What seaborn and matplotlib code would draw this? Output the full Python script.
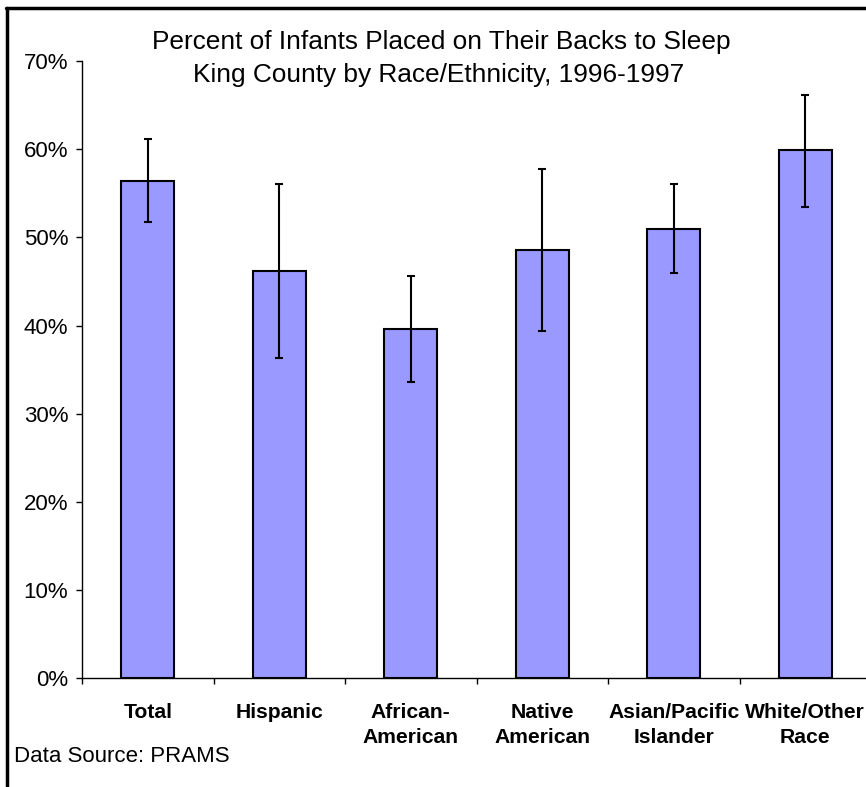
import matplotlib
matplotlib.use("Agg")
import matplotlib.pyplot as plt
from matplotlib.lines import Line2D
from matplotlib.ticker import PercentFormatter, FixedLocator
import seaborn as sns
import pandas as pd
import numpy as np

categories = ["Total", "Hispanic", "African-\nAmerican", "Native\nAmerican",
              "Asian/Pacific\nIslander", "White/Other\nRace"]
percent = [56.4, 46.2, 39.6, 48.6, 51.0, 59.9]
ci_low = [51.7, 36.3, 33.6, 39.4, 46.0, 53.5]
ci_high = [61.2, 56.1, 45.6, 57.8, 56.0, 66.2]
yticks = [0, 10, 20, 30, 40, 50, 60, 70]

title_lines = ["Percent of Infants Placed on Their Backs to Sleep",
               "King County by Race/Ethnicity, 1996-1997"]
source = "Data Source: PRAMS"

sns.set_theme(style="white")
plt.rcParams["font.family"] = ["Liberation Sans", "DejaVu Sans"]
plt.rcParams["text.color"] = "black"
plt.rcParams["xtick.color"] = "black"
plt.rcParams["ytick.color"] = "black"

W, H = 866, 787
fig = plt.figure(figsize=(W / 100, H / 100), dpi=100)
ax = fig.add_axes([82 / W, 1 - 678.3 / H, (871 - 82) / W, (678.3 - 61) / H])

df = pd.DataFrame({"cat": categories, "val": percent})
sns.barplot(data=df, x="cat", y="val", color="#9999FF", saturation=1,
            width=0.4, edgecolor="black", linewidth=1.5, ax=ax)

x = np.arange(len(categories))
vals = np.array(percent)
yerr = np.vstack([vals - np.array(ci_low), np.array(ci_high) - vals])
ax.errorbar(x, vals, yerr=yerr, fmt="none", ecolor="black", elinewidth=1.5,
            capsize=3, capthick=1.5)

ax.set_xlim(-0.5, len(categories) - 0.5)
ax.set_ylim(0, 70)
ax.yaxis.set_major_locator(FixedLocator(yticks))
ax.yaxis.set_major_formatter(PercentFormatter(100, decimals=0))

# category boundary ticks (major, no labels) + labels at centers (minor)
ax.set_xticks(np.arange(len(categories) + 1) - 0.5)
ax.set_xticklabels([])
ax.set_xticks(x, minor=True)
ax.set_xticklabels(categories, minor=True, fontweight="bold", fontsize=15.2,
                   linespacing=1.36)
ax.tick_params(axis="x", which="major", direction="out", length=4.3, width=1,
               color="black", bottom=True)
ax.tick_params(axis="x", which="minor", length=0, pad=18, bottom=True)
ax.tick_params(axis="y", direction="out", length=4, width=1, color="black",
               labelsize=16, pad=6, left=True)
ax.set_xlabel("")
ax.set_ylabel("")
for s in ["top", "right"]:
    ax.spines[s].set_visible(False)
for s in ["left", "bottom"]:
    ax.spines[s].set_color("black")
    ax.spines[s].set_linewidth(1)
ax.set_facecolor("white")

fig.text(441 / W, 1 - 49.3 / H, title_lines[0], ha="center", va="baseline",
         fontsize=18.9)
fig.text(439 / W, 1 - 81.7 / H, title_lines[1], ha="center", va="baseline",
         fontsize=18.9)
fig.text(14 / W, 1 - 757 / H, source, ha="left", va="center", fontsize=16)

# outer chart frame (left and top edges visible)
fig.add_artist(Line2D([7.5 / W, 7.5 / W], [-0.1, 1 - 8 / H], color="black",
                      lw=2.5, transform=fig.transFigure))
fig.add_artist(Line2D([6.3 / W, 1.1], [1 - 8 / H, 1 - 8 / H], color="black",
                      lw=2.5, transform=fig.transFigure))

fig.savefig("out.png", dpi=100, facecolor="white")
